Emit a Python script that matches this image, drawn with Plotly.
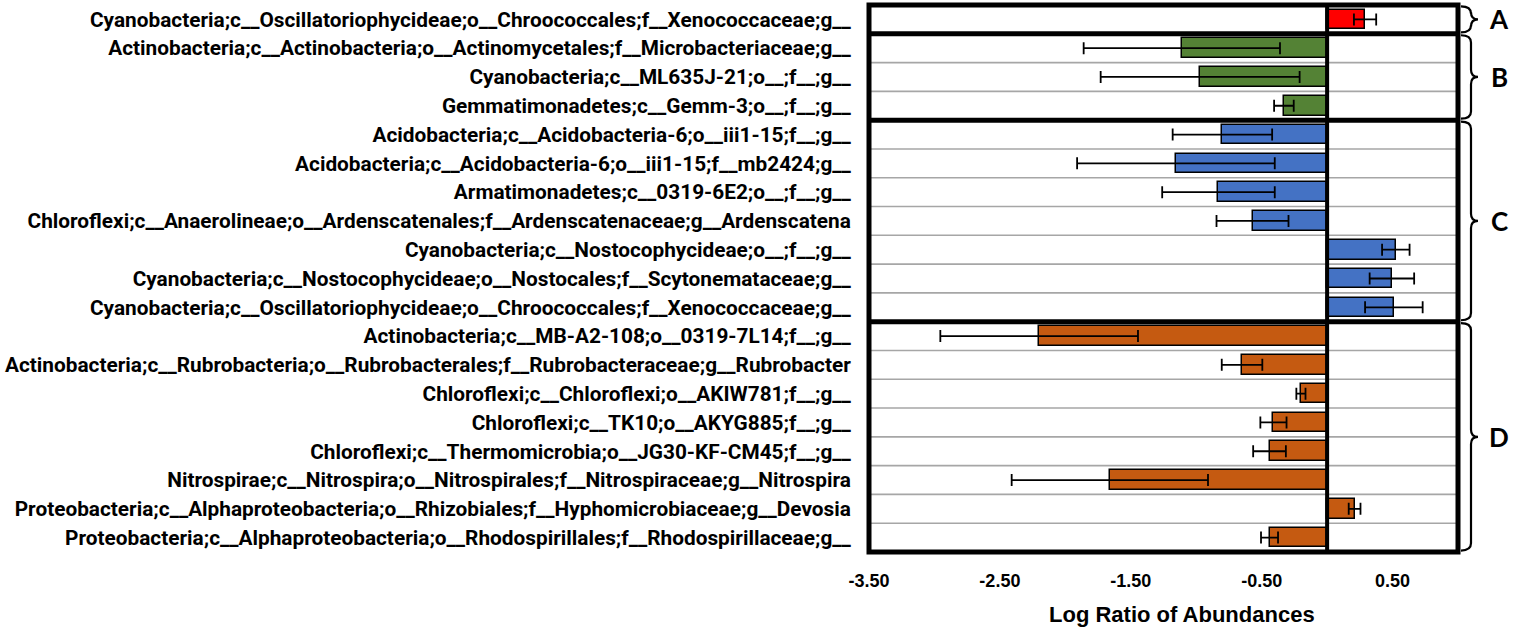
import plotly.graph_objects as go

labels = [
    "Cyanobacteria;c__Oscillatoriophycideae;o__Chroococcales;f__Xenococcaceae;g__",
    "Actinobacteria;c__Actinobacteria;o__Actinomycetales;f__Microbacteriaceae;g__",
    "Cyanobacteria;c__ML635J-21;o__;f__;g__",
    "Gemmatimonadetes;c__Gemm-3;o__;f__;g__",
    "Acidobacteria;c__Acidobacteria-6;o__iii1-15;f__;g__",
    "Acidobacteria;c__Acidobacteria-6;o__iii1-15;f__mb2424;g__",
    "Armatimonadetes;c__0319-6E2;o__;f__;g__",
    "Chloroflexi;c__Anaerolineae;o__Ardenscatenales;f__Ardenscatenaceae;g__Ardenscatena",
    "Cyanobacteria;c__Nostocophycideae;o__;f__;g__",
    "Cyanobacteria;c__Nostocophycideae;o__Nostocales;f__Scytonemataceae;g__",
    "Cyanobacteria;c__Oscillatoriophycideae;o__Chroococcales;f__Xenococcaceae;g__",
    "Actinobacteria;c__MB-A2-108;o__0319-7L14;f__;g__",
    "Actinobacteria;c__Rubrobacteria;o__Rubrobacterales;f__Rubrobacteraceae;g__Rubrobacter",
    "Chloroflexi;c__Chloroflexi;o__AKIW781;f__;g__",
    "Chloroflexi;c__TK10;o__AKYG885;f__;g__",
    "Chloroflexi;c__Thermomicrobia;o__JG30-KF-CM45;f__;g__",
    "Nitrospirae;c__Nitrospira;o__Nitrospirales;f__Nitrospiraceae;g__Nitrospira",
    "Proteobacteria;c__Alphaproteobacteria;o__Rhizobiales;f__Hyphomicrobiaceae;g__Devosia",
    "Proteobacteria;c__Alphaproteobacteria;o__Rhodospirillales;f__Rhodospirillaceae;g__",
]
values = [0.29,
          -1.11, -0.97, -0.33,
          -0.80, -1.155, -0.83, -0.57, 0.525, 0.495, 0.51,
          -2.20, -0.65, -0.20, -0.41, -0.44, -1.66, 0.21, -0.44]
errors = [0.085,
          0.75, 0.76, 0.075,
          0.38, 0.755, 0.43, 0.275, 0.105, 0.17, 0.22,
          0.755, 0.155, 0.035, 0.10, 0.125, 0.75, 0.045, 0.065]
groups = ["A", "B", "B", "B", "C", "C", "C", "C", "C", "C", "C",
          "D", "D", "D", "D", "D", "D", "D", "D"]
group_names = ["A", "B", "C", "D"]
group_colors = {"A": "#ff0000", "B": "#548235", "C": "#4472c4", "D": "#c55a11"}
x_ticks = [-3.5, -2.5, -1.5, -0.5, 0.5]
x_ticktext = ["-3.50", "-2.50", "-1.50", "-0.50", "0.50"]

n = len(labels)
fig = go.Figure()
for g in group_names:
    idx = [i for i in range(n) if groups[i] == g]
    fig.add_trace(go.Bar(
        y=idx, x=[values[i] for i in idx], orientation="h",
        width=0.68,
        marker=dict(color=group_colors[g], line=dict(color="black", width=1.5)),
        error_x=dict(type="data", array=[errors[i] for i in idx], symmetric=True,
                     color="black", thickness=1.8, width=6),
        showlegend=False, hoverinfo="skip",
    ))

shapes = []
# row separators
for b in range(1, n):
    thick = groups[b] != groups[b - 1]
    shapes.append(dict(type="line", xref="paper", yref="y", x0=0, x1=1,
                       y0=b - 0.5, y1=b - 0.5,
                       line=dict(color="black" if thick else "#a6a6a6",
                                 width=5 if thick else 1.6),
                       layer="below" if not thick else "above"))
# zero line
shapes.append(dict(type="line", xref="x", yref="paper", x0=0, x1=0, y0=0, y1=1,
                   line=dict(color="black", width=4), layer="above"))
# frame
shapes.append(dict(type="rect", xref="paper", yref="paper", x0=0, x1=1, y0=0, y1=1,
                   line=dict(color="black", width=5), layer="above"))

# brackets
L, R = 869, 1458
def px(p):
    return (p - L) / (R - L)

annotations = []
for g in group_names:
    idx = [i for i in range(n) if groups[i] == g]
    top = min(idx) - 0.45
    bot = max(idx) + 0.45
    mid = (top + bot) / 2
    d = 0.25
    x0, xv, xt = px(1461), px(1471), px(1478)
    path = (f"M {x0},{top} Q {xv},{top} {xv},{top + d} "
            f"L {xv},{mid - d} Q {xv},{mid} {xt},{mid} "
            f"Q {xv},{mid} {xv},{mid + d} L {xv},{bot - d} "
            f"Q {xv},{bot} {x0},{bot}")
    shapes.append(dict(type="path", xref="paper", yref="y", path=path,
                       line=dict(color="black", width=2.2)))
    annotations.append(dict(xref="paper", yref="y", x=px(1499), y=mid, text=f"<b>{g}</b>",
                            showarrow=False, xanchor="center", yanchor="middle",
                            font=dict(family="Lato, Open Sans, sans-serif", size=26, color="black")))

annotations.append(dict(xref="paper", yref="paper", x=px(1182), y=(552 - 614) / 547,
                        text="<b>Log Ratio of Abundances</b>", showarrow=False,
                        xanchor="center", yanchor="middle",
                        font=dict(family="Liberation Sans, Arial, sans-serif", size=22, color="black")))

fig.update_layout(
    width=1516, height=631,
    margin=dict(l=869, r=58, t=5, b=79, autoexpand=False),
    plot_bgcolor="white", paper_bgcolor="white",
    shapes=shapes, annotations=annotations,
    bargap=0,
    xaxis=dict(range=[-3.5, 1.0], tickvals=x_ticks, ticktext=[f"<b>{t}</b>" for t in x_ticktext],
               showgrid=False, zeroline=False, showline=False, fixedrange=True, automargin=False,
               ticks="outside", ticklen=12, tickcolor="rgba(0,0,0,0)",
               tickfont=dict(family="Liberation Sans, Arial, sans-serif", size=18, color="black")),
    yaxis=dict(range=[n - 0.5, -0.5], tickvals=list(range(n)),
               ticktext=[f"<b>{t}</b>" for t in labels],
               showgrid=False, zeroline=False, showline=False, fixedrange=True, automargin=False,
               ticks="outside", ticklen=13, tickcolor="rgba(0,0,0,0)",
               tickfont=dict(family="Roboto, DejaVu Sans Condensed, sans-serif",
                             size=20.8, color="black")),
)

fig.write_html("out.html", config={"displayModeBar": False},
               post_script="document.body.style.margin='0';document.body.style.padding='0';")
